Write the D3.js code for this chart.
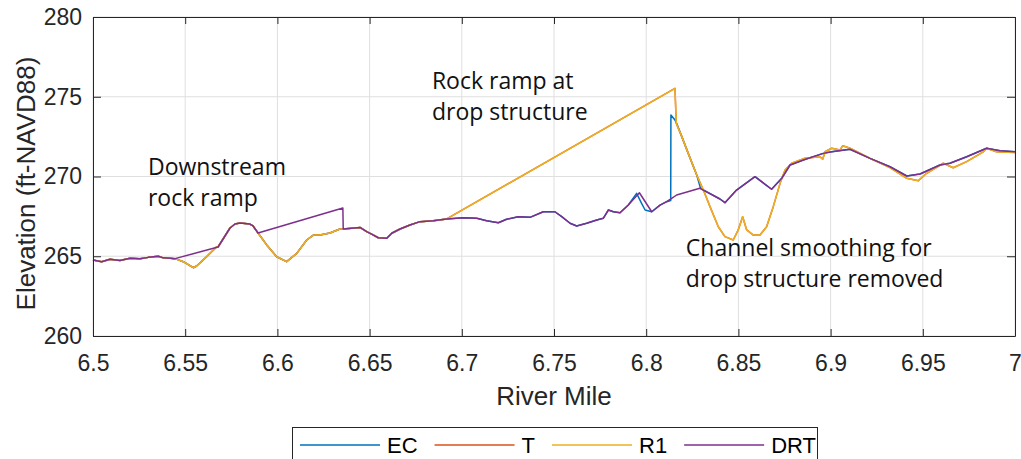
<!DOCTYPE html>
<html>
<head>
<meta charset="utf-8">
<script src="https://cdn.jsdelivr.net/npm/d3@7"></script>
<style>
  body { margin: 0; background: #fff; }
  svg { display: block; }
  .tick text { font-family: "Liberation Sans", Arial, sans-serif; fill: #262626; }
</style>
</head>
<body>
<svg width="1021" height="459"></svg>
<script>
var width = 1021, height = 459;

// river mile / elevation
var ecPts = [
  [6.5000,264.76],[6.5047,264.66],[6.5092,264.81],[6.5146,264.74],[6.5201,264.87],[6.5255,264.84],[6.5300,264.93],[6.5354,265.00],[6.5381,264.90],[6.5418,264.87],[6.5445,264.85],
  [6.5490,264.66],[6.5544,264.28],[6.5562,264.39],[6.5616,264.97],[6.5671,265.60],
  [6.5678,265.58],[6.5743,266.77],[6.5770,267.02],[6.5797,267.08],[6.5851,267.02],[6.5868,266.90],[6.5895,266.46],
  [6.5942,265.71],[6.5996,264.97],[6.6050,264.66],[6.6105,265.18],[6.6159,266.02],[6.6195,266.33],[6.6231,266.33],[6.6285,266.46],[6.6339,266.71],
  [6.6357,266.71],[6.6448,266.81],[6.6484,266.54],[6.6511,266.39],[6.6547,266.16],[6.6593,266.13],[6.6620,266.44],[6.6665,266.71],[6.6719,266.96],[6.6773,267.17],[6.6845,267.23],[6.6918,267.34],
  [6.7008,267.42],[6.7081,267.38],[6.7135,267.23],[6.7198,267.10],[6.7243,267.32],[6.7306,267.48],[6.7370,267.44],[6.7442,267.79],[6.7505,267.79],[6.7542,267.48],[6.7587,267.07],[6.7623,266.90],[6.7677,267.07],[6.7732,267.27],[6.7767,267.38],[6.7795,267.90],[6.7822,267.79],[6.7858,267.73],[6.7903,268.21],
  [6.7948,268.94],[6.7975,268.32],[6.7994,267.90],[6.8030,267.79],[6.8075,268.21],[6.8111,268.42],[6.8133,268.50],
  [6.8134,273.86],[6.8156,273.54],[6.8165,273.34],[6.8193,272.50],[6.8228,271.45],[6.8274,270.09],[6.8295,269.25],
  [6.8400,268.59],[6.8427,268.36],[6.8490,269.15],[6.8590,269.99],[6.8680,269.20],[6.8735,269.89],[6.8780,270.72],[6.8852,271.03],[6.8960,271.45],[6.9006,271.55],[6.9105,271.71],[6.9214,271.14],[6.9322,270.61],[6.9413,270.03],[6.9485,270.16],[6.9593,270.72],[6.9647,270.83],[6.9738,271.24],[6.9846,271.77],[6.9919,271.62],[7.0000,271.55]
];

var r1Pts = [
  [6.5000,264.76],[6.5047,264.66],[6.5092,264.81],[6.5146,264.74],[6.5201,264.87],[6.5255,264.84],[6.5300,264.93],[6.5354,265.00],[6.5381,264.90],[6.5418,264.87],[6.5445,264.85],
  [6.5490,264.66],[6.5544,264.28],[6.5562,264.39],[6.5616,264.97],[6.5671,265.60],
  [6.5678,265.58],[6.5743,266.77],[6.5770,267.02],[6.5797,267.08],[6.5851,267.02],[6.5868,266.90],[6.5895,266.46],
  [6.5942,265.71],[6.5996,264.97],[6.6050,264.66],[6.6105,265.18],[6.6159,266.02],[6.6195,266.33],[6.6231,266.33],[6.6285,266.46],[6.6339,266.71],
  [6.6357,266.71],[6.6448,266.81],[6.6484,266.54],[6.6511,266.39],[6.6547,266.16],[6.6593,266.13],[6.6620,266.44],[6.6665,266.71],[6.6719,266.96],[6.6773,267.17],[6.6845,267.23],[6.6918,267.34],
  [6.8156,275.53],[6.8163,273.34],
  [6.8193,272.50],[6.8228,271.45],[6.8274,270.09],[6.8310,269.15],[6.8346,268.11],[6.8391,266.85],[6.8427,266.23],[6.8472,266.02],[6.8499,266.65],[6.8523,267.48],[6.8545,266.65],[6.8581,266.33],[6.8617,266.33],[6.8653,266.85],[6.8689,268.11],[6.8726,269.57],[6.8753,270.41],[6.8789,270.83],
  [6.8861,271.14],[6.8942,271.24],[6.8957,271.08],[6.8970,271.55],[6.9006,271.77],[6.9051,271.66],[6.9066,271.93],[6.9105,271.77],[6.9214,271.14],[6.9322,270.56],[6.9413,269.89],[6.9476,269.74],[6.9521,270.20],[6.9611,270.83],[6.9665,270.55],[6.9738,270.93],[6.9828,271.55],[6.9846,271.77],[6.9900,271.55],[7.0000,271.50]
];

// T lies under R1 everywhere in the picture
var tPts = r1Pts;

var drtPts = [
  [6.5000,264.76],[6.5047,264.66],[6.5092,264.81],[6.5146,264.74],[6.5201,264.87],[6.5255,264.84],[6.5300,264.93],[6.5354,265.00],[6.5381,264.90],[6.5418,264.87],[6.5445,264.85],
  [6.5678,265.58],[6.5743,266.77],[6.5770,267.02],[6.5797,267.08],[6.5851,267.02],[6.5868,266.90],[6.5895,266.46],
  [6.6355,268.03],[6.6357,266.71],
  [6.6448,266.81],[6.6484,266.54],[6.6511,266.39],[6.6547,266.16],[6.6593,266.13],[6.6620,266.44],[6.6665,266.71],[6.6719,266.96],[6.6773,267.17],[6.6845,267.23],[6.6918,267.34],
  [6.7008,267.42],[6.7081,267.38],[6.7135,267.23],[6.7198,267.10],[6.7243,267.32],[6.7306,267.48],[6.7370,267.44],[6.7442,267.79],[6.7505,267.79],[6.7542,267.48],[6.7587,267.07],[6.7623,266.90],[6.7677,267.07],[6.7732,267.27],[6.7767,267.38],[6.7795,267.90],[6.7822,267.79],[6.7858,267.73],[6.7903,268.21],[6.7963,268.98],
  [6.8030,267.79],[6.8075,268.21],[6.8111,268.42],[6.8138,268.63],[6.8165,268.84],[6.8291,269.26],[6.8400,268.59],[6.8427,268.36],[6.8490,269.15],[6.8590,269.99],[6.8680,269.20],[6.8735,269.89],[6.8780,270.72],[6.8852,271.03],[6.8960,271.45],[6.9006,271.55],[6.9105,271.71],[6.9214,271.14],[6.9322,270.61],[6.9413,270.03],[6.9485,270.16],[6.9593,270.72],[6.9647,270.83],[6.9738,271.24],[6.9846,271.77],[6.9919,271.62],[7.0000,271.55]
];

var seriesNames = ["EC", "T", "R1", "DRT"];
var seriesColors = ["#0072BD", "#D95319", "#EDB120", "#7E2F8E"];
var seriesPts = [ecPts, tPts, r1Pts, drtPts];

var xTicks = [6.5, 6.55, 6.6, 6.65, 6.7, 6.75, 6.8, 6.85, 6.9, 6.95, 7];
var xTickLabels = ["6.5", "6.55", "6.6", "6.65", "6.7", "6.75", "6.8", "6.85", "6.9", "6.95", "7"];
var yTicks = [260, 265, 270, 275, 280];
var yTickLabels = ["260", "265", "270", "275", "280"];

var notes = [
  {lines: ["Downstream", "rock ramp"], mile: 6.5298, elev: 270.1},
  {lines: ["Rock ramp at", "drop structure"], mile: 6.6838, elev: 275.5},
  {lines: ["Channel smoothing for", "drop structure removed"], mile: 6.8215, elev: 265.0}
];

var svg = d3.select("svg");
var margin = {top: 17, right: 6, bottom: 123, left: 93};

var x = d3.scaleLinear().domain([6.5, 7]).range([margin.left, width - margin.right]);
var y = d3.scaleLinear().domain([260, 280]).range([height - margin.bottom, margin.top]);

var x0 = x.range()[0], x1 = x.range()[1], y0 = y.range()[0], y1 = y.range()[1];

// grid
var grid = svg.append("g").attr("stroke", "#dfdfdf").attr("stroke-width", 1);
grid.selectAll(".gx").data(xTicks).enter().append("line")
  .attr("x1", function(d) { return x(d); }).attr("x2", function(d) { return x(d); })
  .attr("y1", y1).attr("y2", y0);
grid.selectAll(".gy").data(yTicks).enter().append("line")
  .attr("x1", x0).attr("x2", x1)
  .attr("y1", function(d) { return y(d); }).attr("y2", function(d) { return y(d); });

// lines
var line = d3.line()
  .x(function(d) { return x(d[0]); })
  .y(function(d) { return y(d[1]); });

svg.append("g").selectAll("path")
  .data(seriesPts)
  .enter().append("path")
    .attr("d", line)
    .attr("fill", "none")
    .attr("stroke", function(d, i) { return seriesColors[i]; })
    .attr("stroke-width", 1.5)
    .attr("stroke-linejoin", "round");

// axes
function styleAxis(g) {
  g.select(".domain").attr("stroke", "#262626");
  g.selectAll(".tick line").attr("stroke", "#262626");
  g.selectAll(".tick text").attr("font-size", 23);
}

svg.append("g")
  .attr("transform", "translate(0," + y0 + ")")
  .call(d3.axisBottom(x).tickValues(xTicks).tickFormat(function(d, i) { return xTickLabels[i]; })
    .tickSizeInner(-7).tickSizeOuter(0).tickPadding(19))
  .call(styleAxis);

svg.append("g")
  .attr("transform", "translate(0," + y1 + ")")
  .call(d3.axisTop(x).tickValues(xTicks).tickFormat("").tickSizeInner(-7).tickSizeOuter(0))
  .call(styleAxis);

svg.append("g")
  .attr("transform", "translate(" + x0 + ",0)")
  .call(d3.axisLeft(y).tickValues(yTicks).tickFormat(function(d, i) { return yTickLabels[i]; })
    .tickSizeInner(-8).tickSizeOuter(0).tickPadding(11))
  .call(styleAxis);

svg.append("g")
  .attr("transform", "translate(" + x1 + ",0)")
  .call(d3.axisRight(y).tickValues(yTicks).tickFormat("").tickSizeInner(-8).tickSizeOuter(0))
  .call(styleAxis);

svg.selectAll(".tick text").attr("fill", "#262626");

// axis titles
svg.append("text")
  .attr("x", (x0 + x1) / 2).attr("y", 405)
  .attr("text-anchor", "middle")
  .attr("font-family", "Liberation Sans, Arial, sans-serif")
  .attr("font-size", 26).attr("fill", "#262626")
  .text("River Mile");

svg.append("text")
  .attr("transform", "translate(35," + ((y0 + y1) / 2 + 7) + ") rotate(-90)")
  .attr("text-anchor", "middle")
  .attr("font-family", "Liberation Sans, Arial, sans-serif")
  .attr("font-size", 26).attr("fill", "#262626")
  .text("Elevation (ft-NAVD88)");

// annotations
notes.forEach(function(n) {
  var t = svg.append("text")
    .attr("font-family", "Open Sans, sans-serif")
    .attr("font-size", 23).attr("fill", "#111");
  n.lines.forEach(function(s, i) {
    t.append("tspan").attr("x", x(n.mile)).attr("y", y(n.elev) + i * 31).text(s);
  });
});

// legend
var leg = svg.append("g");
leg.append("rect")
  .attr("x", 292.5).attr("y", 427.5).attr("width", 525).attr("height", 40)
  .attr("fill", "#fff").attr("stroke", "#262626").attr("stroke-width", 1);
var lx = 300;
seriesNames.forEach(function(name, i) {
  leg.append("line")
    .attr("x1", lx).attr("x2", lx + 80).attr("y1", 445).attr("y2", 445)
    .attr("stroke", seriesColors[i]).attr("stroke-width", 1.5);
  var t = leg.append("text")
    .attr("x", lx + 87).attr("y", 453)
    .attr("font-family", "Liberation Sans, Arial, sans-serif")
    .attr("font-size", 22).attr("fill", "#000")
    .text(name);
  lx = lx + 87 + t.node().getComputedTextLength() + 17;
});
</script>
</body>
</html>
